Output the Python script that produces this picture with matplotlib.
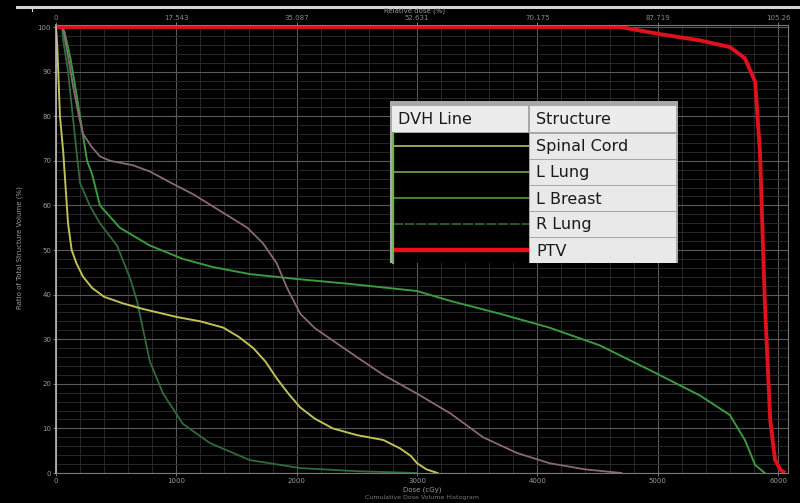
import matplotlib
matplotlib.use("Agg")
import matplotlib.pyplot as plt
from matplotlib.patches import Rectangle

# Cumulative DVH data (dose in cGy, volume in %)
cord_dose = [0, 10, 33, 60, 80, 100, 130, 170, 225, 300, 400, 560, 720, 1000, 1200, 1390,
             1520, 1640, 1740, 1840, 1940, 2030, 2150, 2300, 2500, 2720, 2860, 2950, 3000, 3080, 3170]
cord_vol = [100, 96, 80, 72, 64, 56, 50, 47, 44, 41.5, 39.5, 38, 36.8, 35, 34, 32.6,
            30.5, 28, 25, 21, 17.5, 14.7, 12.2, 10, 8.5, 7.4, 5.5, 3.8, 2.2, 0.8, 0]

llung_dose = [0, 55, 90, 140, 190, 225, 300, 365, 450, 640, 780, 960, 1140, 1350, 1590, 1720,
              1835, 1920, 2030, 2150, 2300, 2500, 2720, 3000, 3275, 3550, 3830, 4100, 4400, 4700]
llung_vol = [100, 100, 95, 87, 80, 76, 73, 71, 70, 69, 67.6, 65, 62.5, 59, 55, 51.5,
             47, 41.5, 35.7, 32.5, 29.7, 26, 22, 17.8, 13.4, 8, 4.5, 2.2, 0.8, 0]

lbreast_dose = [0, 50, 70, 120, 170, 258, 300, 365, 530, 780, 1055, 1300, 1610, 2000, 2440,
                3000, 3275, 3690, 4100, 4520, 4940, 5350, 5600, 5725, 5810, 5890]
lbreast_vol = [100, 100, 99, 93, 85, 70, 67, 60, 55, 51, 48, 46.2, 44.6, 43.5, 42.4,
               40.8, 38.6, 35.7, 32.6, 28.6, 23, 17.4, 13, 7.4, 1.8, 0]

rlung_dose = [0, 50, 60, 100, 175, 200, 280, 365, 507, 615, 673, 780, 890, 1055, 1280,
              1610, 2030, 2500, 3000]
rlung_vol = [100, 100, 97, 90, 71, 65, 60, 56, 51, 43.7, 38.6, 25, 17.8, 11, 6.7,
             2.9, 1.1, 0.4, 0]

ptv_dose = [0, 4690, 5020, 5350, 5600, 5725, 5810, 5850, 5890, 5935, 5975, 6020, 6060]
ptv_vol = [100, 100, 98.4, 97, 95.5, 93, 87.7, 72, 38.6, 12, 3, 0.7, 0]

structures = ["Spinal Cord", "L Lung", "L Breast", "R Lung", "PTV"]
dose_ticks = [0, 1000, 2000, 3000, 4000, 5000, 6000]
rel_ticks = ["0", "17.543", "35.087", "52.631", "70.175", "87.719", "105.26"]
vol_ticks = [0, 10, 20, 30, 40, 50, 60, 70, 80, 90, 100]

W, H = 800, 503
fig = plt.figure(figsize=(W / 100, H / 100), dpi=100, facecolor="black")

ax = fig.add_axes([56 / W, 1 - 473 / H, (788 - 56) / W, (473 - 25) / H])
ax.set_facecolor("black")
ax.set_xlim(0, 6083)
ax.set_ylim(0, 100.45)

# grid
ax.set_xticks(dose_ticks)
ax.set_xticks(range(0, 6083, 200), minor=True)
ax.set_yticks(vol_ticks)
ax.set_yticks(range(0, 101, 2), minor=True)
ax.grid(which="major", color="#5a5a5a", lw=0.8)
ax.grid(which="minor", color="#282828", lw=0.7)
ax.set_axisbelow(True)
for s in ax.spines.values():
    s.set_color("#7a7a7a")
    s.set_linewidth(0.8)
ax.spines["left"].set_color("#bdbdbd")
ax.spines["left"].set_linewidth(1.2)

ax.tick_params(which="both", colors="#8a8a8a", labelsize=5, length=2, width=0.6, pad=1.5)
ax.tick_params(which="minor", length=0)
ax.set_xticklabels([str(d) for d in dose_ticks], color="#9a9a9a")
ax.set_yticklabels([str(v) for v in vol_ticks], color="#9a9a9a")

# secondary (relative dose) axis on top
top = ax.secondary_xaxis("top")
top.set_xticks(dose_ticks)
top.set_xticklabels(rel_ticks, color="#9a9a9a")
top.tick_params(colors="#8a8a8a", labelsize=5, length=2, width=0.6, pad=1)
top.spines["top"].set_visible(False)

# curves
ax.plot(rlung_dose, rlung_vol, color="#2f6b3c", lw=1.3)
ax.plot(lbreast_dose, lbreast_vol, color="#3a9a3e", lw=1.4)
ax.plot(llung_dose, llung_vol, color="#8a6878", lw=1.3)
ax.plot(cord_dose, cord_vol, color="#c0c058", lw=1.4)
ax.plot(ptv_dose, ptv_vol, color="#e0101c", lw=2.8, solid_capstyle="butt")

# overlay in pixel coordinates for labels, header bar and the structure table
ov = fig.add_axes([0, 0, 1, 1], facecolor="none")
ov.set_xlim(0, W)
ov.set_ylim(H, 0)
ov.axis("off")

ov.plot([17, 800], [6.5, 6.5], color="#d4d4d4", lw=2.2)
ov.plot([32, 32], [6, 11], color="#d4d4d4", lw=0.8)
ov.text(415, 11, "Relative dose (%)", color="#9a9a9a", fontsize=5, ha="center", va="center")
ov.text(422, 489.5, "Dose (cGy)", color="#9a9a9a", fontsize=5, ha="center", va="center")
ov.text(20, 248, "Ratio of Total Structure Volume (%)", color="#9a9a9a", fontsize=5,
        rotation=90, ha="center", va="center")
ov.text(422, 498, "Cumulative Dose Volume Histogram", color="#7a7a7a", fontsize=4.5,
        ha="center", va="center")

# structure table
tx0, tx1, tx2 = 390, 529, 678
ty0, ty1 = 103, 133
row_h = (263 - ty1) / len(structures)
line_colors = ["#a6b452", "#72a84a", "#56983c", "#2f6a2a", "#e8101c"]
line_styles = ["-", "-", "-", (0, (6, 1)), "-"]
line_widths = [1.3, 1.2, 1.2, 1.2, 3.2]

ov.add_patch(Rectangle((tx0, ty0 - 2), tx2 - tx0, 265 - ty0, facecolor="#a8a8a8", edgecolor="none"))
ov.add_patch(Rectangle((tx0 + 2, ty0 + 3), tx1 - tx0 - 3, ty1 - ty0 - 4, facecolor="#ececec", edgecolor="none"))
ov.add_patch(Rectangle((tx1 + 1, ty0 + 3), tx2 - tx1 - 3, ty1 - ty0 - 4, facecolor="#ececec", edgecolor="none"))
ov.text(tx0 + 8, (ty0 + ty1) / 2 + 1, "DVH Line", fontsize=11.5, color="#1a1a1a", va="center")
ov.text(tx1 + 7, (ty0 + ty1) / 2 + 1, "Structure", fontsize=11.5, color="#1a1a1a", va="center")
ov.add_patch(Rectangle((tx0 + 2, ty1), tx1 - tx0 - 2, 263 - ty1, facecolor="black", edgecolor="none"))
for i, name in enumerate(structures):
    y0 = ty1 + i * row_h
    ov.add_patch(Rectangle((tx1 + 1, y0 + 1), tx2 - tx1 - 3, row_h - 1.5,
                           facecolor="#e9e9e9", edgecolor="none"))
    yc = y0 + row_h / 2
    ov.text(tx1 + 7, yc + 1, name, fontsize=11.5, color="#1a1a1a", va="center")
    ov.plot([tx0 + 3, tx1], [yc, yc], color=line_colors[i], lw=line_widths[i],
            ls=line_styles[i], solid_capstyle="butt")
ov.plot([tx0 + 3, tx0 + 3], [ty1, 263], color="#78b058", lw=1.6)

fig.savefig("out.png", dpi=100, facecolor="black")
